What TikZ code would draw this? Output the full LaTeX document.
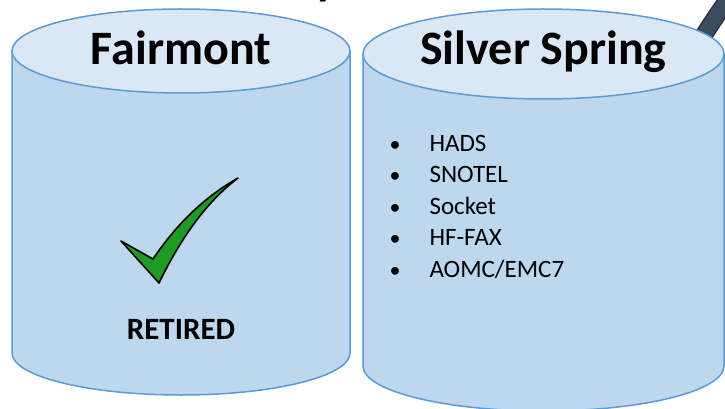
\documentclass[tikz,border=0pt]{standalone}
\usepackage{fontspec}
\setmainfont{Carlito}
\usepackage{tikz}

\definecolor{bodyblue}{HTML}{BDD7EE}
\definecolor{topblue}{HTML}{DAE7F5}
\definecolor{edgeblue}{HTML}{5B9BD5}
\definecolor{slate}{HTML}{3C4A5D}
\definecolor{checkgreen}{HTML}{1E9B22}

\tikzset{
  cylbody/.style={fill=bodyblue},
  cyledge/.style={draw=edgeblue, line width=1.5pt},
  cyltop/.style={fill=topblue, draw=edgeblue, line width=1.5pt},
  sitename/.style={anchor=base, font=\fontsize{48}{52}\selectfont\bfseries},
  listitem/.style={anchor=base west, font=\fontsize{25}{29}\selectfont},
  bullet/.style={anchor=base, font=\fontsize{22}{26}\selectfont}
}

\begin{document}
\begin{tikzpicture}[x=1pt,y=-1pt]
  \useasboundingbox (0,0) rectangle (725,409);

  % title above, cut off
  \node[sitename, anchor=base west] (title) at (312,-5) {y};

  % dark band behind the right drum
  \draw[slate!70!black, line width=18pt] (690,58) .. controls (703,36) and (716,15) .. (738,-14);
  \draw[slate, line width=15pt] (690,58) .. controls (703,36) and (716,15) .. (738,-14);

  % Fairmont drum
  \fill[cylbody] (12,51) rectangle (350,353);
  \fill[cylbody] (181,353) ellipse [x radius=169pt, y radius=42pt];
  \draw[cyledge] (12,51) -- (12,353) arc[start angle=180, end angle=360, x radius=169pt, y radius=42pt] -- (350,51);
  \draw[cyltop] (181,51) ellipse [x radius=169pt, y radius=42pt];
  \node[sitename] (fairmont) at (181,65) {Fairmont};

  % Silver Spring drum
  \fill[cylbody] (363,54) rectangle (724,366);
  \fill[cylbody] (543.5,366) ellipse [x radius=180.5pt, y radius=45pt];
  \draw[cyledge] (363,54) -- (363,366) arc[start angle=180, end angle=360, x radius=180.5pt, y radius=45pt] -- (724,54);
  \draw[cyltop] (543.5,54) ellipse [x radius=180.5pt, y radius=45pt];
  \node[sitename] (silver) at (543.5,65) {Silver Spring};

  % check mark
  \draw[fill=checkgreen, line width=1.6pt, line join=round]
    (121,241) -- (159,283) .. controls (180,240) and (205,203) .. (238,178)
    .. controls (203,198) and (176,225) .. (153,259) -- cycle;
  \node[anchor=base, font=\fontsize{31}{36}\selectfont\bfseries] (retired) at (181,339) {RETIRED};

  % feeds
  \foreach \feed [count=\i] in {HADS, SNOTEL, Socket, HF-FAX, AOMC/EMC7} {
    \node[bullet] (dot\i) at (395,151+31.6*\i-31.6) {•};
    \node[listitem] (feed\i) at (426,151+31.6*\i-31.6) {\feed};
  }
\end{tikzpicture}
\end{document}
